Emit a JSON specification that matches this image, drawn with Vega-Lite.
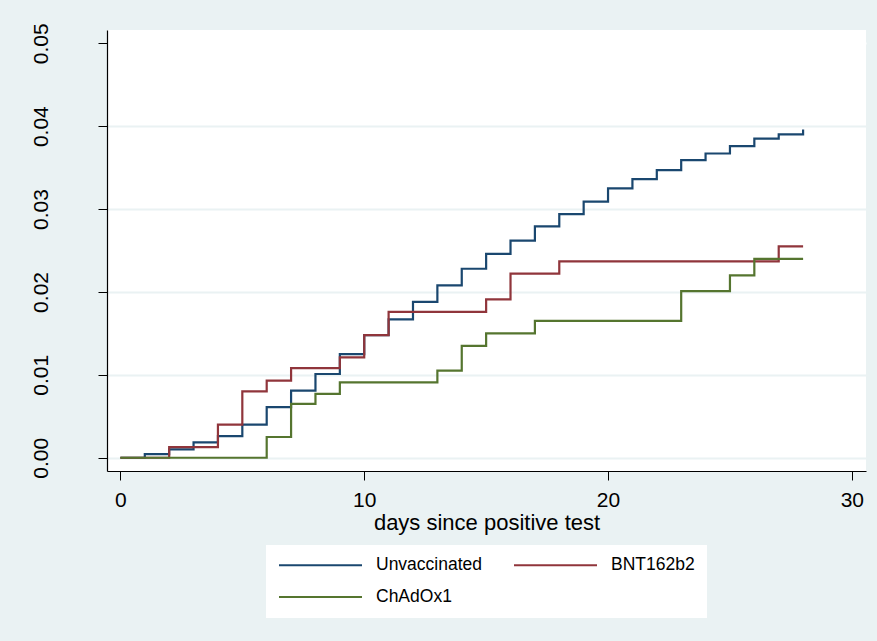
{
  "$schema": "https://vega.github.io/schema/vega-lite/v6.json",
  "width": 759,
  "height": 441,
  "autosize": {"type": "none"},
  "padding": {"left": 107, "top": 30, "right": 11, "bottom": 170},
  "background": "#eaf2f3",
  "config": {"view": {"fill": "white", "stroke": null}, "font": "Liberation Sans"},
  "data": {
    "values": [
      {"group": "Unvaccinated", "day": 0, "risk": 0},
      {"group": "Unvaccinated", "day": 1, "risk": 0.00044},
      {"group": "Unvaccinated", "day": 2, "risk": 0.0010},
      {"group": "Unvaccinated", "day": 3, "risk": 0.00185},
      {"group": "Unvaccinated", "day": 4, "risk": 0.0026},
      {"group": "Unvaccinated", "day": 5, "risk": 0.0040},
      {"group": "Unvaccinated", "day": 6, "risk": 0.0061},
      {"group": "Unvaccinated", "day": 7, "risk": 0.0081},
      {"group": "Unvaccinated", "day": 8, "risk": 0.0101},
      {"group": "Unvaccinated", "day": 9, "risk": 0.0125},
      {"group": "Unvaccinated", "day": 10, "risk": 0.0148},
      {"group": "Unvaccinated", "day": 11, "risk": 0.0167},
      {"group": "Unvaccinated", "day": 12, "risk": 0.0188},
      {"group": "Unvaccinated", "day": 13, "risk": 0.0208},
      {"group": "Unvaccinated", "day": 14, "risk": 0.0228},
      {"group": "Unvaccinated", "day": 15, "risk": 0.0246},
      {"group": "Unvaccinated", "day": 16, "risk": 0.0262},
      {"group": "Unvaccinated", "day": 17, "risk": 0.0279},
      {"group": "Unvaccinated", "day": 18, "risk": 0.0294},
      {"group": "Unvaccinated", "day": 19, "risk": 0.0309},
      {"group": "Unvaccinated", "day": 20, "risk": 0.0325},
      {"group": "Unvaccinated", "day": 21, "risk": 0.0336},
      {"group": "Unvaccinated", "day": 22, "risk": 0.0347},
      {"group": "Unvaccinated", "day": 23, "risk": 0.0359},
      {"group": "Unvaccinated", "day": 24, "risk": 0.0367},
      {"group": "Unvaccinated", "day": 25, "risk": 0.0376},
      {"group": "Unvaccinated", "day": 26, "risk": 0.0385},
      {"group": "Unvaccinated", "day": 27, "risk": 0.0390},
      {"group": "Unvaccinated", "day": 28, "risk": 0.0396},
      {"group": "BNT162b2", "day": 0, "risk": 0},
      {"group": "BNT162b2", "day": 2, "risk": 0.00128},
      {"group": "BNT162b2", "day": 4, "risk": 0.0040},
      {"group": "BNT162b2", "day": 5, "risk": 0.0080},
      {"group": "BNT162b2", "day": 6, "risk": 0.0093},
      {"group": "BNT162b2", "day": 7, "risk": 0.0108},
      {"group": "BNT162b2", "day": 9, "risk": 0.0121},
      {"group": "BNT162b2", "day": 10, "risk": 0.0148},
      {"group": "BNT162b2", "day": 11, "risk": 0.0176},
      {"group": "BNT162b2", "day": 15, "risk": 0.0191},
      {"group": "BNT162b2", "day": 16, "risk": 0.0222},
      {"group": "BNT162b2", "day": 18, "risk": 0.0237},
      {"group": "BNT162b2", "day": 27, "risk": 0.0255},
      {"group": "BNT162b2", "day": 28, "risk": 0.0255},
      {"group": "ChAdOx1", "day": 0, "risk": 0},
      {"group": "ChAdOx1", "day": 6, "risk": 0.0025},
      {"group": "ChAdOx1", "day": 7, "risk": 0.0065},
      {"group": "ChAdOx1", "day": 8, "risk": 0.0077},
      {"group": "ChAdOx1", "day": 9, "risk": 0.0091},
      {"group": "ChAdOx1", "day": 13, "risk": 0.0105},
      {"group": "ChAdOx1", "day": 14, "risk": 0.0135},
      {"group": "ChAdOx1", "day": 15, "risk": 0.0150},
      {"group": "ChAdOx1", "day": 17, "risk": 0.0165},
      {"group": "ChAdOx1", "day": 23, "risk": 0.0201},
      {"group": "ChAdOx1", "day": 25, "risk": 0.0220},
      {"group": "ChAdOx1", "day": 26, "risk": 0.0240},
      {"group": "ChAdOx1", "day": 28, "risk": 0.0240}
    ]
  },
  "mark": {"type": "line", "interpolate": "step-after", "strokeWidth": 2.2},
  "encoding": {
    "x": {
      "field": "day",
      "type": "quantitative",
      "scale": {"domain": [-0.55, 30.58], "nice": false, "zero": false},
      "axis": {
        "values": [0, 10, 20, 30],
        "title": "days since positive test",
        "titleFontSize": 22,
        "titleFontWeight": "normal",
        "titleColor": "black",
        "titlePadding": 2,
        "labelFontSize": 21,
        "labelColor": "black",
        "labelPadding": 9,
        "labelFlush": false,
        "tickSize": 9,
        "tickColor": "black",
        "domainColor": "black",
        "domainWidth": 1.2,
        "grid": false
      }
    },
    "y": {
      "field": "risk",
      "type": "quantitative",
      "scale": {"domain": [-0.0016, 0.0516], "nice": false, "zero": false},
      "axis": {
        "values": [0, 0.01, 0.02, 0.03, 0.04, 0.05],
        "format": ".2f",
        "title": null,
        "labelFontSize": 21,
        "labelColor": "black",
        "labelAngle": 270,
        "labelAlign": "center",
        "labelBaseline": "bottom",
        "labelPadding": 47,
        "labelFlush": false,
        "tickSize": 9,
        "tickColor": "black",
        "domainColor": "black",
        "domainWidth": 1.2,
        "grid": true,
        "gridColor": {"condition": {"test": "datum.value >= 0.05", "value": "white"}, "value": "#eaf2f3"},
        "gridWidth": 2
      }
    },
    "color": {
      "field": "group",
      "type": "nominal",
      "scale": {"domain": ["Unvaccinated", "BNT162b2", "ChAdOx1"], "range": ["#1a476f", "#90353b", "#55752f"]},
      "legend": {
        "title": null,
        "orient": "none",
        "direction": "horizontal",
        "legendX": 159,
        "legendY": 515,
        "columns": 2,
        "symbolType": "stroke",
        "symbolSize": 6889,
        "symbolStrokeWidth": 2,
        "clipHeight": 16,
        "labelOffset": 13,
        "labelFontSize": 17.5,
        "labelColor": "black",
        "labelLimit": 0,
        "columnPadding": 30,
        "rowPadding": 14,
        "padding": 12,
        "fillColor": "white",
        "strokeColor": null
      }
    }
  }
}
